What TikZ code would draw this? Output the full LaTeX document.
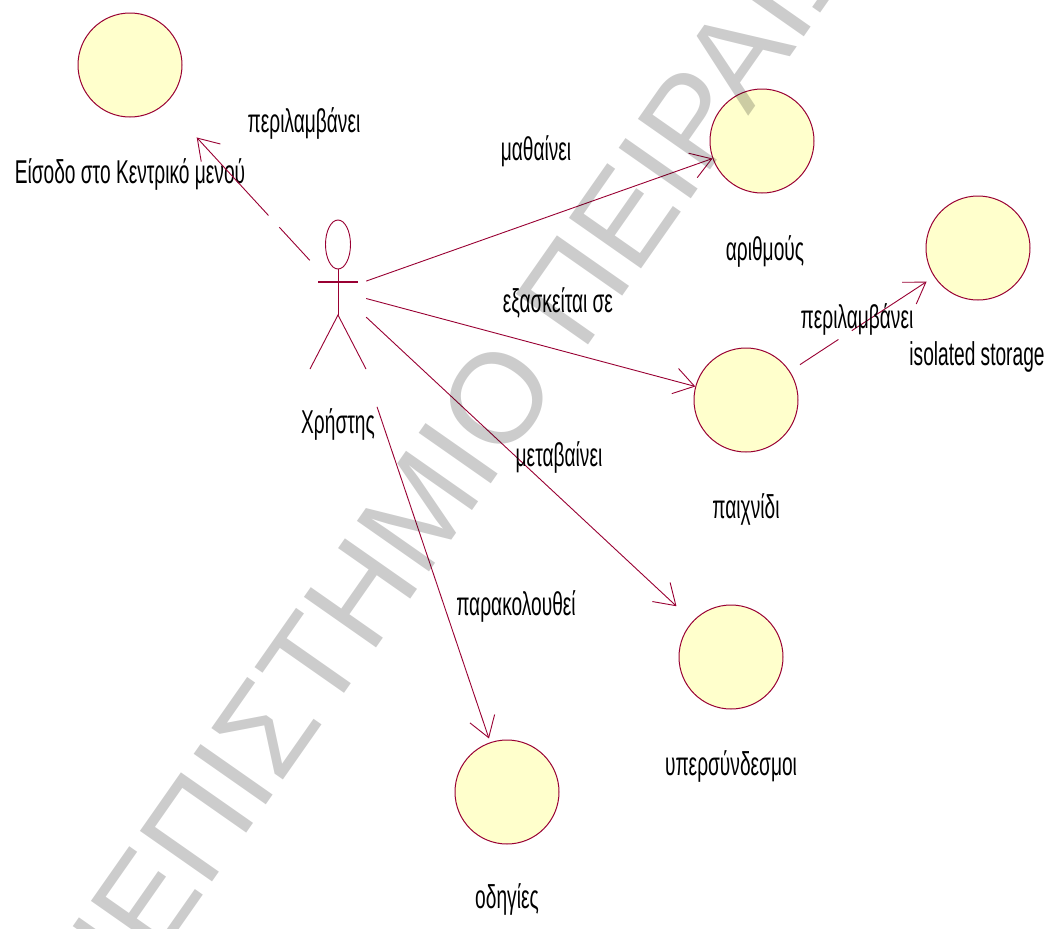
\documentclass[tikz,border=0pt]{standalone}
\usepackage{fontspec}
\setmainfont{Liberation Sans}[FakeStretch=0.58]
\newfontfamily\stampfont{Liberation Sans}
\usetikzlibrary{arrows.meta}
\definecolor{rose}{RGB}{153,0,51}
\definecolor{caseyellow}{RGB}{255,255,204}
\tikzset{
  usecase/.style={circle, draw=rose, fill=caseyellow, line width=1pt,
    minimum size=104pt, inner sep=0pt},
  actorbox/.style={rectangle, draw=none, minimum width=56pt,
    minimum height=146pt, inner sep=0pt},
  lbl/.style={font=\fontsize{33}{38}\selectfont, text=black, anchor=base,
    inner sep=0pt},
  conn/.style={draw=rose, line width=0.9pt,
    -{Straight Barb[length=20pt,width=26pt,line width=0.9pt]}},
  incl/.style={conn, dash pattern=on 104pt off 16pt},
  figure/.style={draw=rose, line width=0.9pt},
  stamp/.style={font=\stampfont\fontsize{128}{128}\selectfont,
    text=black, opacity=0.2, anchor=base west, inner sep=0pt, rotate=55}
}
\begin{document}
\begin{tikzpicture}[x=1pt, y=-1pt]
  \useasboundingbox (0,0) rectangle (1058,929);
  \fill[white] (0,0) rectangle (1058,929);

  % use cases
  \node[usecase] (menu)    at (130,65)  {};
  \node[usecase] (numbers) at (762,141) {};
  \node[usecase] (storage) at (978,248) {};
  \node[usecase] (game)    at (746,400) {};
  \node[usecase] (links)   at (731,657) {};
  \node[usecase] (guide)   at (507,792) {};

  % actor
  \node[actorbox] (user) at (338,291) {};
  \begin{scope}[shift={(user.center)}]
    \draw[figure] (0,-46.5) ellipse [x radius=12.5, y radius=24.5];
    \draw[figure] (0,-22) -- (0,24);
    \draw[figure, line width=1.8pt] (-20,-9) -- (20,-9);
    \draw[figure] (-28,78) -- (0,24) -- (28,78);
  \end{scope}

  % names
  \node[lbl] (tmenu)    at (130,183) {Είσοδο στο Κεντρικό μενού};
  \node[lbl] (tnumbers) at (765,260) {αριθμούς};
  \node[lbl] (tstorage) at (977,365) {isolated storage};
  \node[lbl] (tgame)    at (746,518) {παιχνίδι};
  \node[lbl] (tlinks)   at (731,775) {υπερσύνδεσμοι};
  \node[lbl] (tguide)   at (507,908) {οδηγίες};
  \node[lbl] (tuser)    at (338,433) {Χρήστης};

  % associations
  \draw[conn] (user) -- (numbers);
  \draw[conn] (user) -- (game);
  \draw[conn, shorten >=22pt] (user) -- (links);
  \draw[conn, shorten <=45pt, shorten >=4pt] (user) -- (guide);
  \draw[incl, dash phase=59pt, shorten >=46pt] (user) -- (menu);
  \draw[incl, dash phase=58pt, shorten <=12pt, shorten >=9pt] (game) -- (storage);

  % association labels
  \node[lbl] (lmenu)    at (304,132) {περιλαμβάνει};
  \node[lbl] (lnumbers) at (536,160) {μαθαίνει};
  \node[lbl] (lgame)    at (558,312) {εξασκείται σε};
  \node[lbl] (llinks)   at (559,466) {μεταβαίνει};
  \node[lbl] (lguide)   at (516,615) {παρακολουθεί};
  \node[lbl] (lstorage) at (857,328) {περιλαμβάνει};

  % diagonal stamp across the sheet
  \node[stamp] (seal) at (2.5,1181.6) {ΠΑΝΕΠΙΣΤΗΜΙΟ ΠΕΙΡΑΙΩΣ};
\end{tikzpicture}
\end{document}
